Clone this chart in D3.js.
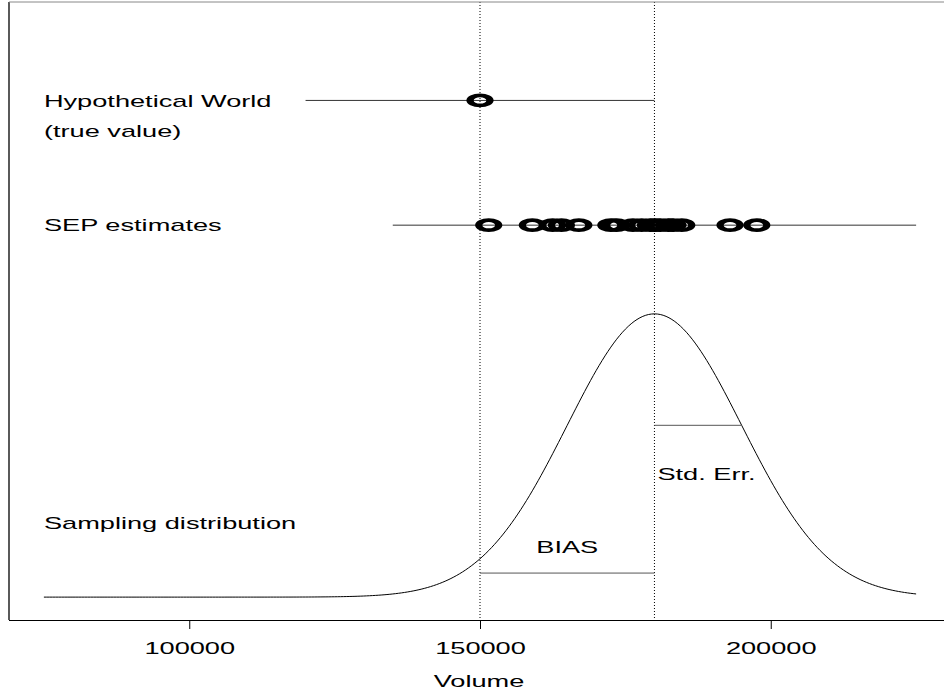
<!DOCTYPE html>
<html>
<head>
<meta charset="utf-8">
<script src="https://cdn.jsdelivr.net/npm/d3@7"></script>
<style>
  html, body { margin: 0; padding: 0; background: #fff; }
  svg { display: block; font-family: "Liberation Sans", Arial, sans-serif; }
</style>
</head>
<body>
<div id="chart"></div>
<script>
// values
const xTicks = [100000, 150000, 200000];
const xLimits = [69000, 231000];          // plotting range, incl. R style 4% padding
const trueValue = 150000;                  // hypothetical world
const trueRange = [120000, 180000];
const sepEstimates = [151500, 159000, 162500, 164000, 167000, 172500, 173500,
                      176300, 177800, 179300, 180100, 181000, 182400, 183200,
                      184700, 193000, 197600];
const sepRange = [135000, 225000];
const samplingMean = 180000;
const samplingSd = 15000;
const curveRange = [75000, 225000];
const rowLevels = { world: 0.868, sep: 0.65 };  // vertical positions (0..1 units)
const peakHeight = 0.495;
const biasLevel = 0.042;

const width = 944, height = 691;
const margin = { top: 2, right: -7, bottom: 71, left: 9 };
const stretch = 1.7;   // the reference is squeezed wide: text + markers are stretched

const svg = d3.select("#chart").append("svg")
    .attr("width", width)
    .attr("height", height);

const x = d3.scaleLinear()
    .domain(xLimits)
    .range([margin.left, width - margin.right]);

// y in 0..1 units, R adds 4% on each side
const y = d3.scaleLinear()
    .domain([-0.04, 1.04])
    .range([height - margin.bottom, margin.top]);

// dotted verticals at the true value and the sampling mean
svg.append("g")
    .selectAll("line")
    .data([trueValue, samplingMean])
    .join("line")
    .attr("x1", d => x(d)).attr("x2", d => x(d))
    .attr("y1", margin.top).attr("y2", height - margin.bottom)
    .attr("stroke", "#000")
    .attr("stroke-width", 1)
    .attr("stroke-dasharray", "1,2");

// frame: left, top and bottom (right side runs off the canvas)
svg.append("line")
    .attr("x1", margin.left).attr("x2", margin.left)
    .attr("y1", margin.top).attr("y2", height - margin.bottom)
    .attr("stroke", "#000").attr("stroke-width", 1.3);
svg.append("line")
    .attr("x1", margin.left).attr("x2", width)
    .attr("y1", margin.top).attr("y2", margin.top)
    .attr("stroke", "#888").attr("stroke-width", 1);

// x axis
const axis = svg.append("g")
    .attr("transform", `translate(0,${height - margin.bottom})`)
    .call(d3.axisBottom(x).tickValues(xTicks).tickSize(9).tickFormat(d3.format("d")));
axis.select(".domain").attr("d", `M${margin.left},0.5H${width}`).attr("stroke", "#000").attr("stroke-width", 1.2);
axis.selectAll(".tick line").attr("stroke", "#000");
axis.selectAll(".tick text")
    .attr("y", 0).attr("dy", null)
    .attr("font-size", 16)
    .attr("transform", `translate(0,34) scale(${stretch},1)`)
    .attr("fill", "#000");

// stretched text helper
function label(str, xv, yv, anchor = "start") {
    svg.append("text")
        .attr("transform", `translate(${xv},${yv}) scale(${stretch},1)`)
        .attr("text-anchor", anchor)
        .attr("font-size", 16)
        .attr("fill", "#000")
        .text(str);
}

label("Volume", x(150000) - 1, 687, "middle");

// row lines
svg.append("line")
    .attr("x1", x(trueRange[0])).attr("x2", x(trueRange[1]))
    .attr("y1", y(rowLevels.world)).attr("y2", y(rowLevels.world))
    .attr("stroke", "#333");
svg.append("line")
    .attr("x1", x(sepRange[0])).attr("x2", x(sepRange[1]))
    .attr("y1", y(rowLevels.sep)).attr("y2", y(rowLevels.sep))
    .attr("stroke", "#333");

// markers: circles stretched like the letter "O" of the original
function markers(values, level) {
    svg.append("g")
        .selectAll("circle")
        .data(values)
        .join("circle")
        .attr("transform", d => `translate(${x(d)},${y(level)}) scale(2,1)`)
        .attr("r", 5)
        .attr("fill", "none")
        .attr("stroke", "#000")
        .attr("stroke-width", 3.6);
}
markers([trueValue], rowLevels.world);
markers(sepEstimates, rowLevels.sep);

// sampling distribution (normal density, scaled to peakHeight)
const density = v => peakHeight * Math.exp(-0.5 * ((v - samplingMean) / samplingSd) ** 2);
const curveX = d3.range(curveRange[0], curveRange[1] + 1, 500);
svg.append("path")
    .datum(curveX)
    .attr("fill", "none")
    .attr("stroke", "#000")
    .attr("stroke-width", 1)
    .attr("d", d3.line().x(d => x(d)).y(d => y(density(d))));

// std. err. and bias segments
svg.append("line")
    .attr("x1", x(samplingMean)).attr("x2", x(samplingMean + samplingSd))
    .attr("y1", y(density(samplingMean + samplingSd))).attr("y2", y(density(samplingMean + samplingSd)))
    .attr("stroke", "#555");
svg.append("line")
    .attr("x1", x(trueValue)).attr("x2", x(samplingMean))
    .attr("y1", y(biasLevel)).attr("y2", y(biasLevel))
    .attr("stroke", "#555");

// labels
label("Hypothetical World", x(curveRange[0]), 107);
label("(true value)", x(curveRange[0]), 137);
label("SEP estimates", x(curveRange[0]), 231);
label("Sampling distribution", x(curveRange[0]), 529);
label("BIAS", x((trueValue + samplingMean) / 2), 553, "middle");
label("Std. Err.", x(samplingMean) + 3, 480);
</script>
</body>
</html>
